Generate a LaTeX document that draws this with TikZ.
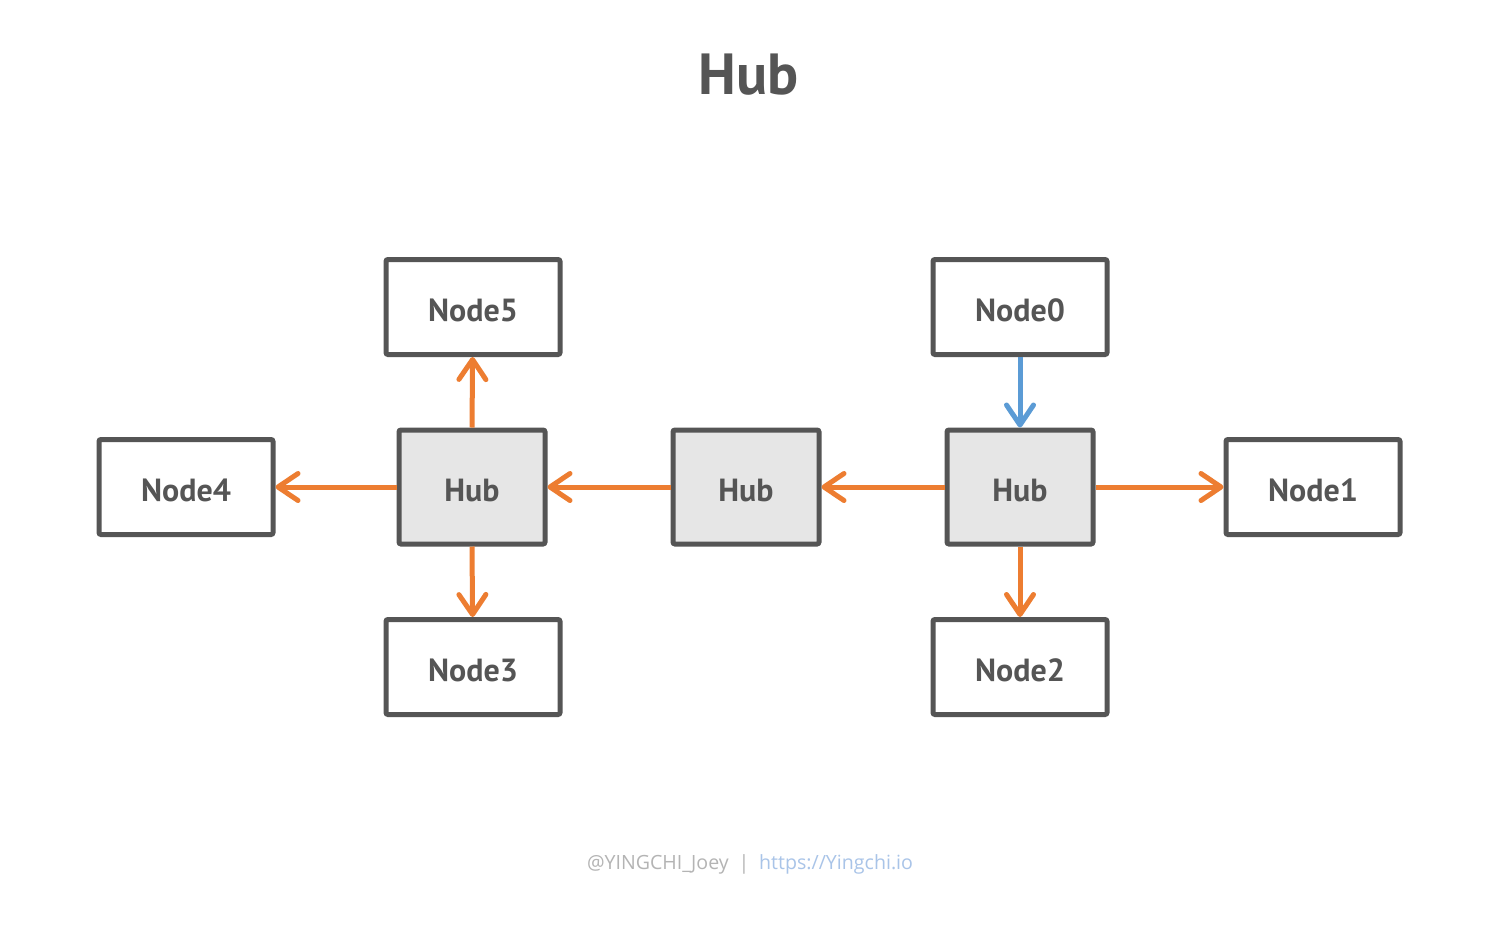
\documentclass[tikz,border=0pt]{standalone}
\usepackage{fontspec}
\setmainfont{PT Sans}
\newfontfamily\footfont{Open Sans}
\usetikzlibrary{arrows.meta}
\definecolor{boxline}{HTML}{555555}
\definecolor{hubfill}{HTML}{E6E6E6}
\definecolor{orangeline}{HTML}{ED7D31}
\definecolor{blueline}{HTML}{5B9BD5}
\definecolor{footgray}{HTML}{B4B4B4}
\definecolor{footblue}{HTML}{A9C4E8}
\newcommand{\lbl}[1]{\raisebox{-1.5pt}[\height][0pt]{#1}}
\tikzset{
  nodebox/.style={draw=boxline, line width=2.5pt, fill=white, rounded corners=1pt,
    minimum width=87pt, minimum height=47.5pt, inner sep=0pt,
    text=boxline, font=\fontsize{16}{18}\selectfont\bfseries},
  hubbox/.style={nodebox, fill=hubfill, minimum width=73pt, minimum height=57pt},
  link/.style={line width=2.5pt, draw=orangeline,
    -{Straight Barb[length=10pt, width=13.5pt, line cap=round, round]}},
  bluelink/.style={link, draw=blueline},
}
\begin{document}
\begin{tikzpicture}[x=0.5pt, y=-0.5pt]
\path[use as bounding box, fill=white] (0,0) rectangle (1500,938);
\node[text=boxline, font=\fontsize{29}{34}\selectfont\bfseries] (title) at (749,75) {Hub};

\node[nodebox] (n5) at (473,307) {\lbl{Node5}};
\node[nodebox] (n0) at (1020,307) {\lbl{Node0}};
\node[nodebox] (n4) at (186,487) {\lbl{Node4}};
\node[nodebox] (n1) at (1313,487) {\lbl{Node1}};
\node[nodebox] (n3) at (473,667) {\lbl{Node3}};
\node[nodebox] (n2) at (1020,667) {\lbl{Node2}};
\node[hubbox] (hl) at (472,487) {\lbl{Hub}};
\node[hubbox] (hm) at (746,487) {\lbl{Hub}};
\node[hubbox] (hr) at (1020,487) {\lbl{Hub}};

\draw[bluelink] (n0) -- (hr);
\draw[link] (hr) -- (n1);
\draw[link] (hr) -- (n2);
\draw[link] (hr) -- (hm);
\draw[link] (hm) -- (hl);
\draw[link] (hl) -- (n4);
\draw[link] (hl.north) -- (n5);
\draw[link] (hl.south) -- (n3);

\node[font=\footfont\fontsize{9.8}{12}\selectfont] (foot) at (750,864)
  {\textcolor{footgray}{@YINGCHI\_Joey\enspace|\enspace}\textcolor{footblue}{https://Yingchi.io}};
\end{tikzpicture}
\end{document}
